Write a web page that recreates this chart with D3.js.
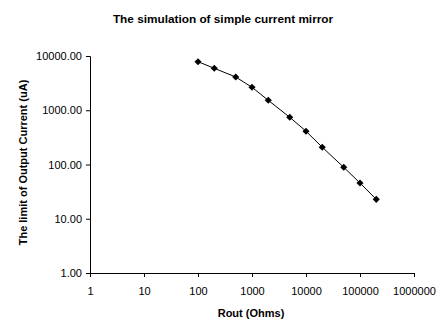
<!DOCTYPE html>
<html>
<head>
<meta charset="utf-8">
<script src="https://cdn.jsdelivr.net/npm/d3@7"></script>
<style>
  html, body { margin: 0; padding: 0; background: #fff; }
  svg { display: block; font-family: "Liberation Sans", Arial, sans-serif; }
</style>
</head>
<body>
<svg id="chart" width="445" height="336"></svg>
<script>
// Output resistance (ohms) and the resulting current limit (uA)
const routOhms = [100, 200, 500, 1000, 2000, 5000, 10000, 20000, 50000, 100000, 200000];
const limitCurrent = [7850, 5930, 4100, 2650, 1525, 741, 411, 208, 88.8, 45.6, 22.8];

const xTicks = [1, 10, 100, 1000, 10000, 100000, 1000000];
const yTicks = [1, 10, 100, 1000, 10000];

const titleText = "The simulation of simple current mirror";
const xTitle = "Rout (Ohms)";
const yTitle = "The limit of Output Current (uA)";

const svg = d3.select("#chart");
const plot = { left: 90, right: 414, top: 56, bottom: 273 };

const x = d3.scaleLog().domain([1, 1000000]).range([plot.left, plot.right]);
const y = d3.scaleLog().domain([1, 10000]).range([plot.bottom, plot.top]);

// Chart title
svg.append("text")
  .attr("x", 223).attr("y", 23)
  .attr("text-anchor", "middle")
  .attr("font-size", 11.8).attr("font-weight", "bold")
  .text(titleText);

// Axes
const xAxis = d3.axisBottom(x).tickValues(xTicks).tickFormat(d3.format("d")).tickSizeOuter(0).tickSize(4);
const yAxis = d3.axisLeft(y).tickValues(yTicks).tickFormat(d3.format(".2f")).tickSizeOuter(0).tickSize(4);

const gx = svg.append("g").attr("transform", `translate(0,${plot.bottom})`).call(xAxis);
const gy = svg.append("g").attr("transform", `translate(${plot.left},0)`).call(yAxis);

[gx, gy].forEach(g => {
  g.selectAll("path.domain").attr("stroke", "#000").attr("stroke-width", 1);
  g.selectAll(".tick line").attr("stroke", "#000");
  g.selectAll(".tick text").attr("fill", "#000").attr("font-size", 11)
    .attr("font-family", "Liberation Sans, Arial, sans-serif");
});
gx.selectAll(".tick text").attr("y", 7).attr("dy", 15);
gy.selectAll(".tick text").attr("x", -8);

// Axis titles
svg.append("text")
  .attr("x", 251).attr("y", 317)
  .attr("text-anchor", "middle")
  .attr("font-size", 11).attr("font-weight", "bold")
  .text(xTitle);

svg.append("text")
  .attr("transform", `translate(27,${(plot.top + plot.bottom) / 2 - 2}) rotate(-90)`)
  .attr("text-anchor", "middle")
  .attr("font-size", 11).attr("font-weight", "bold")
  .text(yTitle);

// Series line
const pts = routOhms.map((r, i) => [r, limitCurrent[i]]);
svg.append("path")
  .datum(pts)
  .attr("fill", "none").attr("stroke", "#000").attr("stroke-width", 1)
  .attr("d", d3.line().x(d => x(d[0])).y(d => y(d[1])));

// Diamond markers
const diamond = d3.symbol().type(d3.symbolDiamond2).size(32);
svg.append("g").selectAll("path")
  .data(pts)
  .join("path")
  .attr("transform", d => `translate(${x(d[0])},${y(d[1])})`)
  .attr("d", diamond)
  .attr("fill", "#000");
</script>
</body>
</html>
